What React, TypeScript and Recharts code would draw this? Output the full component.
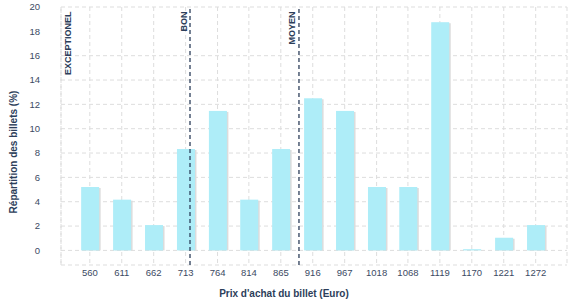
import React from 'react';
import { BarChart, Bar, XAxis, YAxis, CartesianGrid, ReferenceLine } from 'recharts';

// bins of ticket prices (Euro) and share of tickets per bin (%)
const prices = [560, 611, 662, 713, 764, 814, 865, 916, 967, 1018, 1068, 1119, 1170, 1221, 1272];
const shares = [5.21, 4.17, 2.08, 8.33, 11.46, 4.17, 8.33, 12.5, 11.46, 5.21, 5.21, 18.75, 0.1, 1.04, 2.08];
const yTicks = [0, 2, 4, 6, 8, 10, 12, 14, 16, 18, 20];

const thresholdNames = ['EXCEPTIONEL', 'BON', 'MOYEN'];
const thresholdPrices = [514, 720, 894];

const data = prices.map((p, i) => ({ price: p, share: shares[i] }));

const NAVY = '#2c3e5a';
const TEXT = '#3b4a63';
const FONT = '"Liberation Sans", Arial, sans-serif';

const ShadowBar = (props: any) => {
  const { x, y, width, height } = props;
  if (height == null || height <= 0) return null;
  return (
    <g>
      <rect x={x + 1.5} y={y + 1} width={width} height={height - 1} fill="#dcdcdc" />
      <rect x={x} y={y} width={width} height={height} fill="#aeedf8" />
    </g>
  );
};

const ThresholdLabel = ({ viewBox, value, side }: any) => {
  if (!viewBox) return null;
  const ax = side === 'right' ? viewBox.x + 9.5 : viewBox.x - 3.5;
  const ay = viewBox.y + 4.5;
  return (
    <text
      x={ax}
      y={ay}
      transform={`rotate(-90 ${ax} ${ay})`}
      textAnchor="end"
      fontSize={9}
      fontWeight="bold"
      fill={NAVY}
      fontFamily={FONT}
    >
      {value}
    </text>
  );
};

export default function App() {
  return (
    <div style={{ position: 'absolute', left: 0, top: 0, width: 577, height: 300, background: '#fff' }}>
      <BarChart
        width={577}
        height={300}
        data={data}
        margin={{ top: 7, right: 10, bottom: 0, left: 0 }}
        barSize={18}
      >
        <CartesianGrid stroke="#dddddd" strokeDasharray="4 3" />
        <XAxis
          dataKey="price"
          type="number"
          domain={[514, 1322]}
          ticks={prices}
          interval={0}
          allowDataOverflow
          height={35}
          axisLine={false}
          tickLine={false}
          tickSize={4}
          tickMargin={0}
          tick={{ fontSize: 9.5, fill: TEXT, fontFamily: FONT }}
          label={(props: any) => (
            <text x={284} y={297} textAnchor="middle" fontSize={10} fontWeight="bold" fill={NAVY} fontFamily={FONT}>
              Prix d'achat du billet (Euro)
            </text>
          )}
        />
        <YAxis
          type="number"
          domain={[-1.2, 20]}
          ticks={yTicks}
          width={61}
          axisLine={false}
          tickLine={false}
          tickMargin={15}
          tick={{ fontSize: 9.5, fill: TEXT, fontFamily: FONT }}
          label={(props: any) => (
            <text
              x={17}
              y={152}
              transform="rotate(-90 17 152)"
              textAnchor="middle"
              fontSize={10}
              fontWeight="bold"
              fill={NAVY}
              fontFamily={FONT}
            >
              Répartition des billets (%)
            </text>
          )}
        />
        <Bar dataKey="share" shape={ShadowBar} isAnimationActive={false} />
        {thresholdNames.map((name, i) => (
          <ReferenceLine
            key={name}
            x={thresholdPrices[i]}
            stroke={i === 0 ? '#dddddd' : NAVY}
            strokeDasharray={i === 0 ? '4 3' : '4 3'}
            strokeWidth={i === 0 ? 1 : 1.3}
            label={<ThresholdLabel value={name} side={i === 0 ? 'right' : 'left'} />}
          />
        ))}
      </BarChart>
    </div>
  );
}
